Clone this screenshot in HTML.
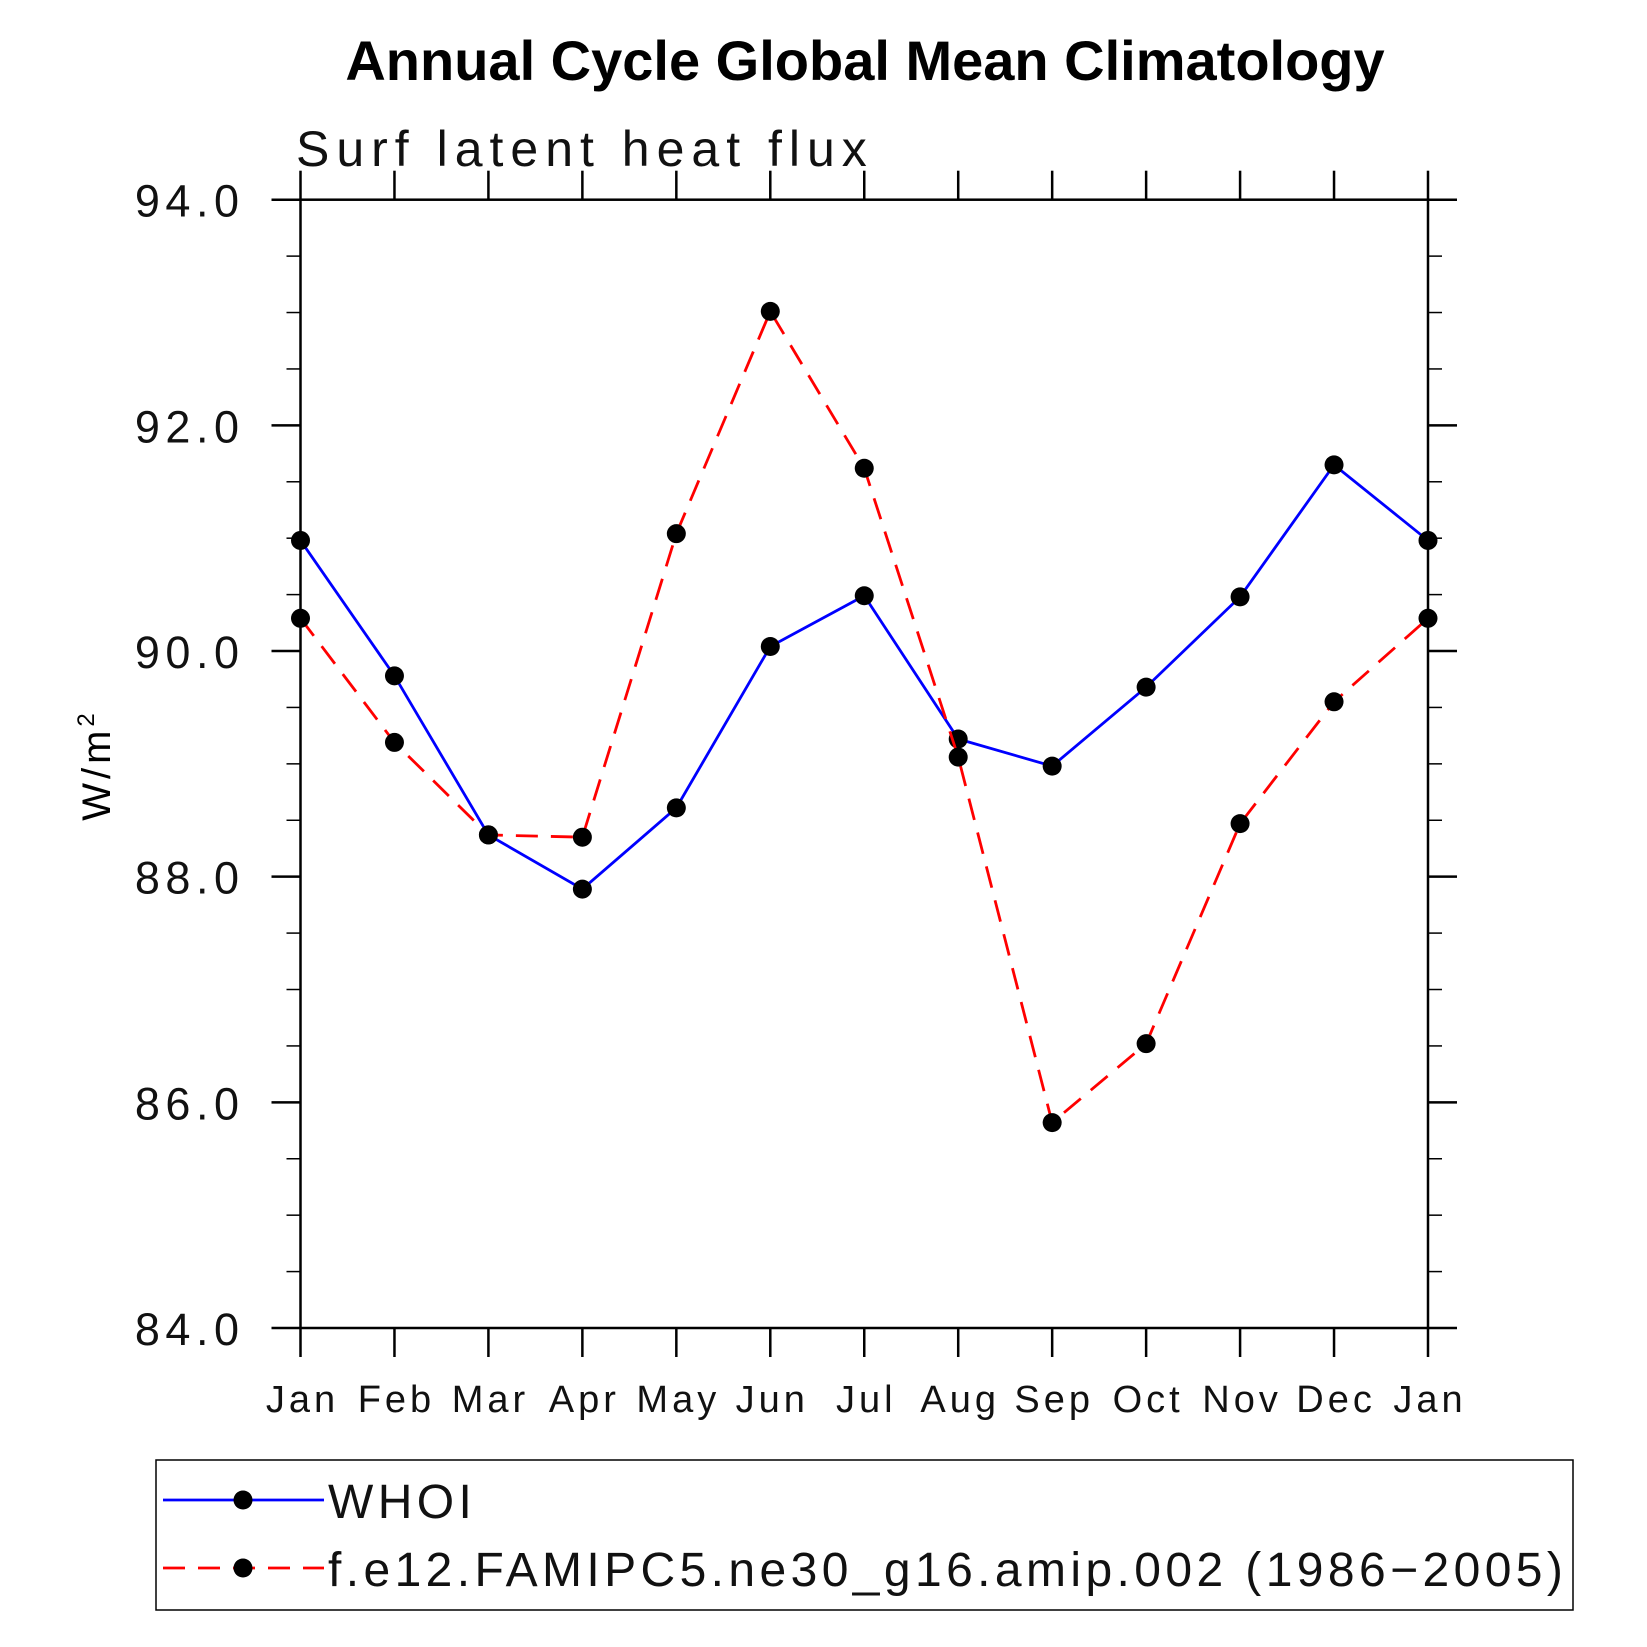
<!DOCTYPE html>
<html><head><meta charset="utf-8"><style>html,body{margin:0;padding:0;background:#fff}svg{display:block}</style></head>
<body>
<svg id="chart" width="1647" height="1647" viewBox="0 0 1647 1647" xmlns="http://www.w3.org/2000/svg" font-family="Liberation Sans, sans-serif">
<text x="865" y="80" text-anchor="middle" font-size="56" font-weight="bold">Annual Cycle Global Mean Climatology</text>
<text x="296" y="166" font-size="50" letter-spacing="7" fill="#111">Surf latent heat flux</text>
<text transform="translate(110,765) rotate(-90)" text-anchor="middle" font-size="40" letter-spacing="4">W/m<tspan dy="-16" font-size="24">2</tspan></text>
<g id="axes"></g>
<g id="series"></g>
<rect x="156" y="1460" width="1417" height="150" fill="none" stroke="#000" stroke-width="1.5"/>
<g id="legend"></g>
</svg>
<script>
const months = ["Jan","Feb","Mar","Apr","May","Jun","Jul","Aug","Sep","Oct","Nov","Dec","Jan"];
const whoi = [90.98,89.78,88.37,87.89,88.61,90.04,90.49,89.22,88.98,89.68,90.48,91.65,90.98];
const model = [90.29,89.19,88.37,88.35,91.04,93.01,91.62,89.06,85.82,86.52,88.47,89.55,90.29];
const yTicks = [84,86,88,90,92,94];
const yMin = 84, yMax = 94;
const L=300.5, R=1428, T=199.7, B=1328;
const NS="http://www.w3.org/2000/svg";
const xs = i => L + (R-L)*i/(months.length-1);
const ys = v => B - (B-T)*(v-yMin)/(yMax-yMin);
function mk(tag, attrs, parent){const e=document.createElementNS(NS,tag);for(const k in attrs)e.setAttribute(k,attrs[k]);parent.appendChild(e);return e;}
const axes=document.getElementById('axes');
const frame=mk('rect',{x:L,y:T,width:R-L,height:B-T,fill:'none',stroke:'#000','stroke-width':2.5},axes);


months.forEach((m,i)=>{
  const x=xs(i);
  const t1=mk('line',{x1:x,x2:x,y1:B,y2:B+29,stroke:'#000','stroke-width':2.5},axes);
  
  
  const t2=mk('line',{x1:x,x2:x,y1:T,y2:T-29,stroke:'#000','stroke-width':2.5},axes);
  
  
  const lb=mk('text',{x:x+2,y:B+84,'text-anchor':'middle','font-size':38,'letter-spacing':4,fill:'#111'},axes);
  lb.textContent=m;
  
  
});
for(let v=yMin; v<=yMax+1e-9; v+=0.5){
  const y=ys(v), major=Math.abs(v-Math.round(v/2)*2)<1e-9, len=major?29:14;
  const a=mk('line',{x1:L-len,x2:L,y1:y,y2:y,stroke:'#000','stroke-width':major?2.5:1.5},axes);
  
  
  const b=mk('line',{x1:R,x2:R+len,y1:y,y2:y,stroke:'#000','stroke-width':major?2.5:1.5},axes);
  
  
}
yTicks.forEach(v=>{
  const t=mk('text',{x:L-56,y:ys(v)+17,'text-anchor':'end','font-size':45,'letter-spacing':5.5,fill:'#111'},axes);
  t.textContent=v.toFixed(1);
  
  
});
const ser=document.getElementById('series');
function drawSeries(vals,color,dash,name){
  const pl=mk('polyline',{points:vals.map((v,i)=>xs(i)+','+ys(v)).join(' '),fill:'none',stroke:color,'stroke-width':2.8,'stroke-dasharray':dash},ser);
  
  
  vals.forEach((v,i)=>{
    const c=mk('circle',{cx:xs(i),cy:ys(v),r:9.5,fill:'#000'},ser);
    
    
  });
}
drawSeries(whoi,'#0000ff','none','whoi');
drawSeries(model,'#ff0000','22 13','model');
const lg=document.getElementById('legend');
function legendEntry(y,color,dash,label,name){
  const l=mk('line',{x1:163,x2:324,y1:y,y2:y,stroke:color,'stroke-width':2.8,'stroke-dasharray':dash},lg);
  
  
  const c=mk('circle',{cx:243,cy:y,r:9.5,fill:'#000'},lg);
  
  
  const t=mk('text',{x:328,y:y+18,'font-size':48,'letter-spacing':4.4,fill:'#111'},lg);
  t.textContent=label;
  
  
}
legendEntry(1500,'#0000ff','none','WHOI','whoi');
legendEntry(1568,'#ff0000','22 13','f.e12.FAMIPC5.ne30_g16.amip.002 (1986\u22122005)','model');
</script>
</body></html>
